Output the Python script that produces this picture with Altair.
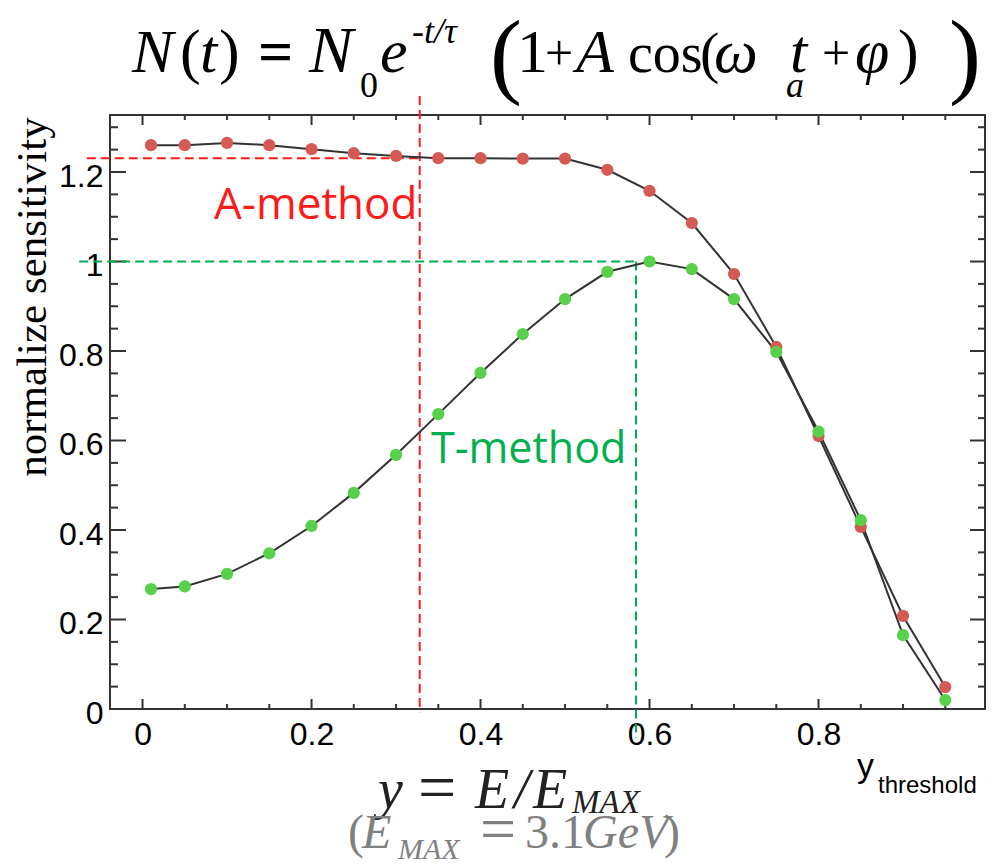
import altair as alt
import pandas as pd

# ---------------- data ----------------
x_threshold = [0.01, 0.05, 0.10, 0.15, 0.20, 0.25, 0.30, 0.35, 0.40, 0.45,
               0.50, 0.55, 0.60, 0.65, 0.70, 0.75, 0.80, 0.85, 0.90, 0.95]
a_method = [1.260, 1.260, 1.265, 1.260, 1.251, 1.242, 1.236, 1.231, 1.231, 1.230,
            1.230, 1.205, 1.158, 1.086, 0.972, 0.809, 0.610, 0.407, 0.208, 0.049]
t_method = [0.268, 0.274, 0.302, 0.348, 0.409, 0.483, 0.568, 0.659, 0.751, 0.838,
            0.916, 0.977, 1.000, 0.983, 0.916, 0.798, 0.620, 0.422, 0.165, 0.020]

x_tick_labels = [0, 0.2, 0.4, 0.6, 0.8]
y_tick_labels = [0, 0.2, 0.4, 0.6, 0.8, 1, 1.2]
x_minor_ticks = [0.05, 0.1, 0.15, 0.25, 0.3, 0.35, 0.45, 0.5, 0.55, 0.65, 0.7, 0.75,
                 0.85, 0.9, 0.95]
y_minor_ticks = [0.05, 0.1, 0.15, 0.25, 0.3, 0.35, 0.45, 0.5, 0.55, 0.65, 0.7, 0.75,
                 0.85, 0.9, 0.95, 1.05, 1.1, 1.15, 1.25, 1.3]

# optimal thresholds marked by the dashed guides
a_opt_x, a_opt_y = 0.328, 1.231
t_opt_x, t_opt_y = 0.584, 1.0

# ---------------- layout ----------------
W, H = 875, 594
LEFT, TOP = 110, 115
X_DOMAIN = [-0.0385, 0.997]
Y_DOMAIN = [0, 1.3274]
xs = alt.Scale(domain=X_DOMAIN, nice=False, zero=False)
ys = alt.Scale(domain=Y_DOMAIN, nice=False, zero=False)
FRAME = "#333333"
RED_PT, GREEN_PT = "#d65a54", "#57d04a"
RED_TXT, GREEN_TXT = "#ff1a1a", "#00b050"

axX = alt.Axis(values=x_tick_labels, format="~g", ticks=False, tickSize=0, domain=False,
               grid=False, labelFont="Liberation Sans", labelFontSize=32,
               labelColor="#000000", labelPadding=10, title=None, labelFlush=False,
               labelOverlap=False)
axY = alt.Axis(values=y_tick_labels, format="~g", ticks=False, tickSize=0, domain=False,
               grid=False, labelFont="Liberation Sans", labelFontSize=32,
               labelColor="#000000", labelPadding=7, labelOffset=4, title=None,
               labelFlush=False, labelOverlap=False)

df = pd.DataFrame({
    "x": x_threshold + x_threshold,
    "y": a_method + t_method,
    "method": ["A-method"] * len(a_method) + ["T-method"] * len(t_method),
})
one = pd.DataFrame({"k": [0]})

lines = alt.Chart(df).mark_line(color="#333333", strokeWidth=2).encode(
    x=alt.X("x:Q", scale=xs, axis=axX),
    y=alt.Y("y:Q", scale=ys, axis=axY),
    detail="method:N",
)

points = alt.Chart(df).mark_circle(size=150, opacity=1).encode(
    x=alt.X("x:Q", scale=xs, axis=axX),
    y=alt.Y("y:Q", scale=ys, axis=axY),
    color=alt.Color("method:N",
                    scale=alt.Scale(domain=["A-method", "T-method"], range=[RED_PT, GREEN_PT]),
                    legend=None),
)


# dashed guide lines (extend outside the frame as in the original)
def guide(x, x2, y, y2, color):
    d = pd.DataFrame({"x": [x], "x2": [x2], "y": [y], "y2": [y2]})
    return alt.Chart(d).mark_rule(strokeDash=[9, 5], strokeWidth=2, color=color).encode(
        x=alt.X("x:Q", scale=xs, axis=axX), x2="x2:Q",
        y=alt.Y("y:Q", scale=ys, axis=axY), y2="y2:Q")


guides = [
    guide(-0.066, a_opt_x, a_opt_y, a_opt_y, RED_TXT),
    guide(a_opt_x, a_opt_x, 1.37, -0.007, RED_TXT),
    guide(-0.075, t_opt_x, t_opt_y, t_opt_y, GREEN_TXT),
    guide(t_opt_x, t_opt_x, t_opt_y, -0.065, GREEN_TXT),
]

frame = alt.Chart(one).mark_rect(fill="transparent", stroke=FRAME, strokeWidth=2).encode(
    x=alt.value(0), x2=alt.value(W), y=alt.value(0), y2=alt.value(H))


def yticks(vals, p0, p1):
    return alt.Chart(pd.DataFrame({"v": vals})).mark_rule(color=FRAME, strokeWidth=2).encode(
        y=alt.Y("v:Q", scale=ys, axis=axY), x=alt.value(p0), x2=alt.value(p1))


def xticks(vals, p0, p1):
    return alt.Chart(pd.DataFrame({"v": vals})).mark_rule(color=FRAME, strokeWidth=2).encode(
        x=alt.X("v:Q", scale=xs, axis=axX), y=alt.value(p0), y2=alt.value(p1))


ticks = [
    yticks(y_tick_labels, 0, 16), yticks(y_minor_ticks, 0, 8),
    yticks(y_tick_labels, W - 15, W), yticks(y_minor_ticks, W - 7, W),
    xticks(x_tick_labels, H - 10, H), xticks(x_minor_ticks, H - 5, H),
    xticks(x_tick_labels, 0, 10), xticks(x_minor_ticks, 0, 5),
]


def txt(text, ax, ay, size, font="Liberation Serif", style="normal", weight="normal",
        color="#000000", align="left", angle=0):
    return alt.Chart(one).mark_text(
        text=text, fontSize=size, font=font, fontStyle=style, fontWeight=weight,
        color=color, align=align, baseline="alphabetic", angle=angle,
    ).encode(x=alt.value(ax - LEFT), y=alt.value(ay - TOP))


SER = "Liberation Serif"
F = 62
formula = [
    txt("N", 132, 72, F, style="italic"),
    txt("(", 180, 72, F),
    txt("t", 200, 72, F, style="italic"),
    txt(")", 219, 72, F),
    txt("=", 258, 72, F, weight="bold"),
    txt("N", 309, 72, F + 4, style="italic"),
    txt("0", 360, 97, 36),
    txt("e", 380, 72, F, style="italic"),
    txt("-t/τ", 412, 43, 36, style="italic"),
    txt("(", 490, 86, 96),
    txt("1", 517, 72, F),
    txt("+", 545, 70, 50),
    txt("A", 576, 72, F, style="italic"),
    txt("cos", 628, 72, 56),
    txt("(", 700, 72, 58),
    txt("ω", 714, 72, F, style="italic"),
    txt("a", 786, 97, 36, style="italic"),
    txt("t", 790, 72, F, style="italic"),
    txt("+", 822, 70, 50),
    txt("φ", 855, 72, F, style="italic"),
    txt(")", 898, 72, F),
    txt(")", 949, 86, 96),
]

INK = "#222222"
GREY = "#808080"
xlabel = [
    txt("y", 378, 808, 56, style="italic", color=INK),
    txt("=", 418, 810, 68, color=INK),
    txt("E", 475, 808, 56, style="italic", color=INK),
    txt("/", 514, 808, 56, style="italic", color=INK),
    txt("E", 533, 808, 56, style="italic", color=INK),
    txt("MAX", 572, 813, 33, style="italic", color=INK),
    txt("(", 348, 848, 48, color=GREY),
    txt("E", 362, 848, 48, style="italic", color=GREY),
    txt("MAX", 398, 859, 30, style="italic", color=GREY),
    txt("=", 480, 850, 64, color=GREY),
    txt("3.1", 525, 848, 48, color=GREY),
    txt("GeV", 583, 848, 48, style="italic", color=GREY),
    txt(")", 664, 848, 48, color=GREY),
]

other = [
    txt("normalize sensitivity", 46, 297, 43, font=SER, align="center", angle=270),
    txt("y", 857, 777, 34, font="Liberation Sans"),
    txt("threshold", 878, 793, 24, font="Liberation Sans"),
    txt("A-method", 214, 219, 44, font="Open Sans", color=RED_TXT),
    txt("T-method", 431, 463, 43, font="Open Sans", color=GREEN_TXT),
]

chart = alt.layer(
    frame, *ticks, *guides, lines, points, *formula, *xlabel, *other
).properties(
    width=W, height=H,
    autosize=alt.AutoSizeParams(type="none"),
    padding={"left": LEFT, "top": TOP, "right": 995 - LEFT - W, "bottom": 864 - TOP - H},
    background="white",
).configure_view(stroke=None)

chart.save("out.html", embed_options={"renderer": "svg", "actions": False})
